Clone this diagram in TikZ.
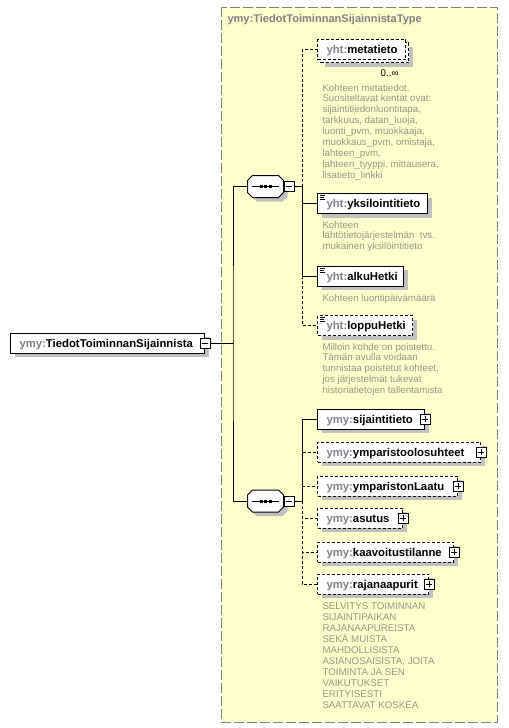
\documentclass[tikz,border=0pt]{standalone}
\usepackage{fontspec}
\setmainfont{Liberation Sans}
\usetikzlibrary{shadows}
\definecolor{yfill}{RGB}{255,255,204}
\definecolor{bordergray}{RGB}{128,128,128}
\definecolor{shadowgray}{RGB}{192,192,192}
\definecolor{prefixgray}{RGB}{128,128,140}
\definecolor{descgray}{RGB}{150,150,130}
\newcommand\pre[1]{{\color{prefixgray}#1}}
\newcommand\octpath[1]{([xshift=3.75pt]#1.north west) -- ([xshift=-3.75pt]#1.north east) -- ([yshift=-3.75pt]#1.north east) -- ([yshift=3.75pt]#1.south east) -- ([xshift=-3.75pt]#1.south east) -- ([xshift=3.75pt]#1.south west) -- ([yshift=3.75pt]#1.south west) -- ([yshift=-3.75pt]#1.north west) -- cycle}
\newcommand\seqshape[1]{%
  \fill[shadowgray, transform canvas={shift={(3pt,-3pt)}}] \octpath{#1};
  \draw[fill=white] \octpath{#1};
  \draw ([xshift=3pt]#1.west) -- ([xshift=-3.75pt]#1.east);
  \foreach \dx in {-3.375pt,0pt,3.375pt} \fill ([xshift=\dx]#1.center) +(-1.125pt,-1.125pt) rectangle +(1.125pt,1.125pt);
}
\newcommand\docicon[1]{%
  \draw[line width=0.6pt] ([xshift=2.25pt,yshift=-1.875pt]#1.north west) -- +(3.75pt,0);
  \draw[line width=0.6pt] ([xshift=2.25pt,yshift=-3.375pt]#1.north west) -- +(3pt,0);
  \draw[line width=0.6pt] ([xshift=2.25pt,yshift=-4.875pt]#1.north west) -- +(3.75pt,0);
}
\tikzset{
  dashpat/.style={dash pattern=on 2.25pt off 1.5pt},
  boxbase/.style={draw, fill=white, minimum height=15pt, inner sep=0pt, anchor=west},
  shad/.style={general shadow={fill=shadowgray, shadow xshift=3pt, shadow yshift=-3pt}},
  reqbox/.style={boxbase, shad},
  optbox/.style={boxbase, shad, dashpat},
  lbl/.style={anchor=base west, inner sep=0pt, font=\fontsize{8.5}{10}\bfseries\selectfont},
  desc/.style={anchor=north west, inner sep=0pt, align=left, text=descgray, font=\fontsize{7.3}{8.2}\selectfont},
  minusbox/.style={draw, fill=white, minimum size=7.5pt, inner sep=0pt,
    path picture={\draw[line width=0.75pt] ([xshift=1.5pt]path picture bounding box.west) -- ([xshift=-1.5pt]path picture bounding box.east);}},
  plusbox/.style={draw, fill=white, minimum size=7.5pt, inner sep=0pt,
    path picture={\draw[line width=0.75pt] ([xshift=1.5pt]path picture bounding box.west) -- ([xshift=-1.5pt]path picture bounding box.east);
      \draw[line width=0.75pt] ([yshift=-1.5pt]path picture bounding box.north) -- ([yshift=1.5pt]path picture bounding box.south);}},
  seqnode/.style={minimum width=26.25pt, minimum height=15.75pt, inner sep=0pt},
  conn/.style={line width=0.75pt},
  optconn/.style={conn, dashpat},
}
\begin{document}
\begin{tikzpicture}[x=0.75pt, y=-0.75pt, line width=0.75pt]
\useasboundingbox (0,0) rectangle (508,728);
% type box
\draw[fill=yfill, draw=bordergray, dash pattern=on 7.5pt off 2.25pt] (221,7) rectangle (497,722);
\node[anchor=base west, inner sep=0pt, text=bordergray, font=\fontsize{8.3}{10}\bfseries\selectfont] (title) at (227,22.5) {ymy:TiedotToiminnanSijainnistaType};

% main element
\node[reqbox, minimum width=145.5pt] (main) at (10,343) {};
\node[lbl] (mainl) at (19,347) {\pre{ymy:}TiedotToiminnanSijainnista};
\node[minusbox] (mainpm) at (main.east) {};

% sequences
\node[seqnode] (seq1) at (265.5,186.5) {};
\seqshape{seq1}
\node[minusbox, anchor=west] (s1pm) at (seq1.east) {};
\node[seqnode] (seq2) at (265.5,501) {};
\seqshape{seq2}
\node[minusbox, anchor=west] (s2pm) at (seq2.east) {};

% first sequence children
\node[optbox, minimum width=66pt] (metaback) at (320,52.5) {};
\node[boxbase, dashpat, minimum width=66pt] (meta) at (317,49.5) {};
\node[lbl] (metal) at (326,53.5) {\pre{yht:}metatieto};
\node[anchor=east, inner sep=0pt, font=\fontsize{7.3}{8}\selectfont] (metaocc) at (399,73) {0..∞};
\node[desc] (metad) at (322,83.5) {Kohteen metatiedot.\\Suositeltavat kentät ovat:\\sijaintitiedonluontitapa,\\tarkkuus, datan\_luoja,\\luonti\_pvm, muokkaaja,\\muokkaus\_pvm, omistaja,\\lahteen\_pvm,\\lahteen\_tyyppi, mittausera,\\lisatieto\_linkki};

\node[reqbox, minimum width=82.5pt] (yks) at (317,203.5) {};
\docicon{yks}
\node[lbl] (yksl) at (326,207.5) {\pre{yht:}yksilointitieto};
\node[desc] (yksd) at (322,220.5) {Kohteen\\lähtötietojärjestelmän\ \ tvs.\\mukainen yksilöintitieto};

\node[reqbox, minimum width=64.5pt] (alku) at (317,276) {};
\docicon{alku}
\node[lbl] (alkul) at (326,280) {\pre{yht:}alkuHetki};
\node[desc] (alkud) at (322,293.5) {Kohteen luontipäivämäärä};

\node[optbox, minimum width=71.25pt] (loppu) at (317,325.5) {};
\docicon{loppu}
\node[lbl] (loppul) at (326,329.5) {\pre{yht:}loppuHetki};
\node[desc] (loppud) at (322,342.5) {Milloin kohde on poistettu.\\Tämän avulla voidaan\\tunnistaa poistetut kohteet,\\jos järjestelmät tukevat\\historiatietojen tallentamista};

% second sequence children
\node[reqbox, minimum width=80.25pt] (sij) at (317,419) {};
\node[lbl] (sijl) at (326,423) {\pre{ymy:}sijaintitieto};
\node[plusbox] (sijpm) at (sij.east) {};

\node[optbox, minimum width=122.25pt] (ympo) at (317,452) {};
\node[lbl] (ympol) at (326,456) {\pre{ymy:}ymparistoolosuhteet};
\node[plusbox] (ympopm) at (ympo.east) {};

\node[optbox, minimum width=105pt] (ympl) at (317,486) {};
\node[lbl] (ympll) at (326,490) {\pre{ymy:}ymparistonLaatu};
\node[plusbox] (ymplpm) at (ympl.east) {};

\node[optbox, minimum width=63.75pt] (asu) at (317,518) {};
\node[lbl] (asul) at (326,522) {\pre{ymy:}asutus};
\node[plusbox] (asupm) at (asu.east) {};

\node[optbox, minimum width=102pt] (kaav) at (317,552) {};
\node[lbl] (kaavl) at (326,556) {\pre{ymy:}kaavoitustilanne};
\node[plusbox] (kaavpm) at (kaav.east) {};

\node[optbox, minimum width=83.25pt] (raja) at (317,584) {};
\node[lbl] (rajal) at (326,588) {\pre{ymy:}rajanaapurit};
\node[plusbox] (rajapm) at (raja.east) {};
\node[desc] (rajad) at (322,602.5) {SELVITYS TOIMINNAN\\SIJAINTIPAIKAN\\RAJANAAPUREISTA\\SEKÄ MUISTA\\MAHDOLLISISTA\\ASIANOSAISISTA, JOITA\\TOIMINTA JA SEN\\VAIKUTUKSET\\ERITYISESTI\\SAATTAVAT KOSKEA};

% connectors
\coordinate (j0) at (233,343);
\coordinate (b1) at (302,186.5);
\coordinate (b2) at (302,501);
\draw[conn] (mainpm.east) -- (j0);
\draw[conn] (seq1.west) -| (j0) |- (seq2.west);
\draw[conn] (s1pm.east) -- (b1);
\draw[optconn] (b1) |- (meta.west);
\draw[conn] (b1) |- (yks.west);
\draw[conn] (b1) |- (alku.west);
\draw[optconn] (b1 |- alku.west) |- (loppu.west);
\draw[conn] (s2pm.east) -- (b2);
\draw[conn] (b2) |- (sij.west);
\draw[optconn] (b2) |- (ympo.west);
\draw[optconn] (b2) |- (ympl.west);
\draw[optconn] (b2) |- (asu.west);
\draw[optconn] (b2) |- (kaav.west);
\draw[optconn] (b2) |- (raja.west);
\end{tikzpicture}
\end{document}
